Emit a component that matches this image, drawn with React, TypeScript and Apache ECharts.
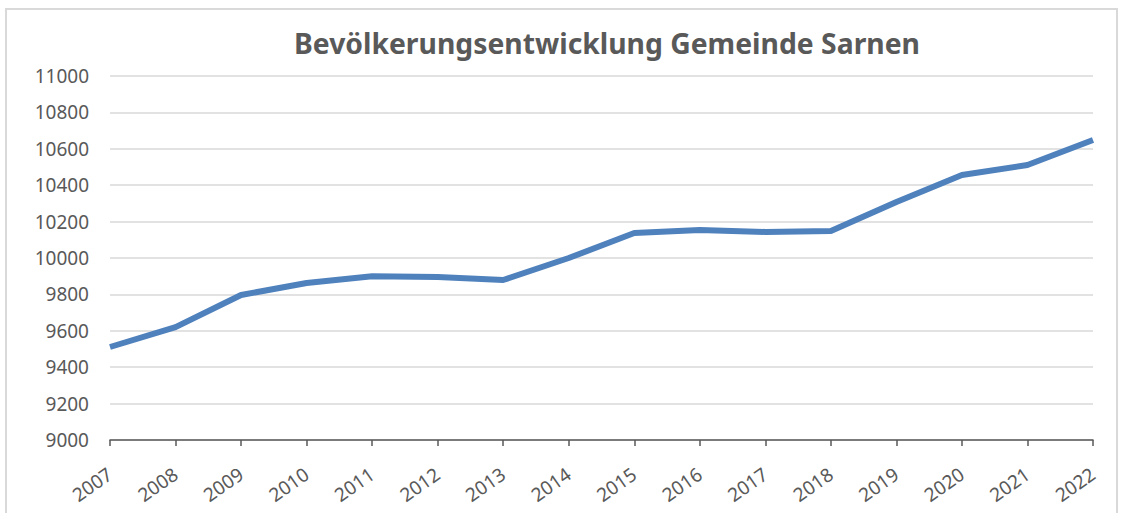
import React, { useEffect, useRef } from "react";
import * as echarts from "echarts";

const title = "Bevölkerungsentwicklung Gemeinde Sarnen";
const years = ["2007", "2008", "2009", "2010", "2011", "2012", "2013", "2014", "2015", "2016", "2017", "2018", "2019", "2020", "2021", "2022"];
const population = [9511, 9620, 9797, 9863, 9900, 9895, 9879, 10000, 10137, 10154, 10143, 10148, 10308, 10456, 10511, 10648];

const FONT = "'Noto Sans', sans-serif";

export default function App() {
  const ref = useRef<HTMLDivElement>(null);
  useEffect(() => {
    if (!ref.current) return;
    const chart = echarts.init(ref.current, undefined, { renderer: "svg" });
    chart.setOption({
      animation: false,
      backgroundColor: "#ffffff",
      title: {
        text: title,
        left: 289,
        top: 24,
        textStyle: { fontFamily: FONT, fontSize: 28.3, fontWeight: "bold", color: "#595959" },
      },
      graphic: [
        {
          type: "rect",
          shape: { x: 6, y: 9, width: 1111, height: 530 },
          style: { fill: "none", stroke: "#d9d9d9", lineWidth: 2 },
          silent: true,
        },
      ],
      grid: { left: 110, right: 32, top: 76, bottom: 73 },
      xAxis: {
        type: "category",
        data: years,
        boundaryGap: false,
        axisLine: { lineStyle: { color: "#595959", width: 1.5 } },
        axisTick: { show: true, length: 6, alignWithLabel: true, lineStyle: { color: "#595959", width: 1.5 } },
        axisLabel: { rotate: 35, margin: 32, fontFamily: FONT, fontSize: 19, color: "#595959" },
      },
      yAxis: {
        type: "value",
        min: 9000,
        max: 11000,
        interval: 200,
        axisLine: { show: false },
        axisTick: { show: false },
        axisLabel: {
          margin: 21,
          fontFamily: FONT,
          fontSize: 19,
          color: "#595959",
          formatter: (v: number) => String(v),
        },
        splitLine: { lineStyle: { color: "#d9d9d9", width: 1.5 } },
      },
      series: [
        {
          type: "line",
          data: population,
          symbol: "none",
          lineStyle: { color: "#4f81bd", width: 6 },
        },
      ],
    });
    return () => chart.dispose();
  }, []);
  return <div ref={ref} style={{ position: "absolute", left: 0, top: 0, width: 1125, height: 513 }} />;
}
